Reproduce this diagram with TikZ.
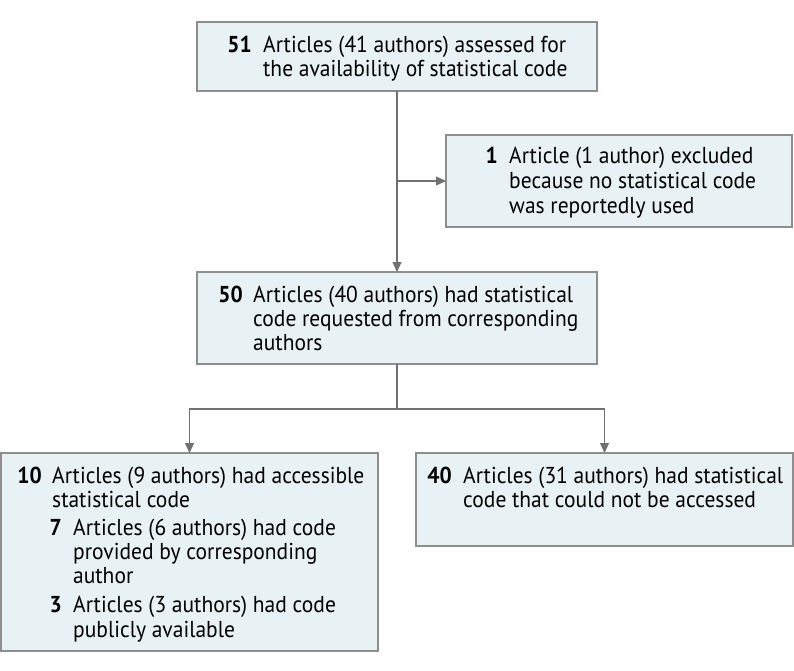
\documentclass[tikz,border=0pt]{standalone}
\usepackage{fontspec}
\setmainfont[FakeStretch=0.935]{PT Sans}
\usetikzlibrary{arrows.meta}
\definecolor{boxfill}{HTML}{E8F1F3}
\definecolor{boxline}{HTML}{8E8E8E}
\definecolor{arrline}{HTML}{707070}
\tikzset{
  box/.style={draw=boxline, fill=boxfill, line width=1.2pt, rectangle, inner sep=0pt, outer sep=0pt, anchor=north west},
  num/.style={anchor=base east, inner sep=0pt, font=\fontsize{23}{27}\selectfont\bfseries},
  txt/.style={anchor=base west, inner sep=0pt, font=\fontsize{23}{27}\selectfont},
  arr/.style={draw=arrline, line width=1.1pt, -{Triangle[width=9pt,length=10pt]}},
  ln/.style={draw=arrline, line width=1.1pt}
}
\begin{document}
\begin{tikzpicture}[x=1pt,y=-1pt]
\useasboundingbox (0,0) rectangle (794,671);
% boxes
\node[box, minimum width=400pt, minimum height=69pt] (b1) at (197,22) {};
\node[box, minimum width=346pt, minimum height=92pt] (b2) at (446,135) {};
\node[box, minimum width=400pt, minimum height=92pt] (b3) at (197,272) {};
\node[box, minimum width=377pt, minimum height=198pt] (b4) at (1,453) {};
\node[box, minimum width=377pt, minimum height=93pt] (b5) at (416,453) {};
% texts
\node[num] (n1) at (252,53) {51};
\node[txt] (t1a) at (263,53) {Articles (41 authors) assessed for};
\node[txt] (t1b) at (263,77) {the availability of statistical code};
\node[num] (n2) at (498,164) {1};
\node[txt] (t2a) at (509,164) {Article (1 author) excluded};
\node[txt] (t2b) at (509,189) {because no statistical code};
\node[txt] (t2c) at (509,213) {was reportedly used};
\node[num] (n3) at (243,302) {50};
\node[txt] (t3a) at (253,302) {Articles (40 authors) had statistical};
\node[txt] (t3b) at (253,326) {code requested from corresponding};
\node[txt] (t3c) at (253,350) {authors};
\node[num] (n4) at (42,483) {10};
\node[txt] (t4a) at (52,483) {Articles (9 authors) had accessible};
\node[txt] (t4b) at (52,507) {statistical code};
\node[num] (n4x) at (62,535) {7};
\node[txt] (t4c) at (73,535) {Articles (6 authors) had code};
\node[txt] (t4d) at (73,559) {provided by corresponding};
\node[txt] (t4e) at (73,583) {author};
\node[num] (n4y) at (62,612) {3};
\node[txt] (t4f) at (73,612) {Articles (3 authors) had code};
\node[txt] (t4g) at (73,637) {publicly available};
\node[num] (n5) at (452,483) {40};
\node[txt] (t5a) at (463,483) {Articles (31 authors) had statistical};
\node[txt] (t5b) at (463,507) {code that could not be accessed};
% connectors
\draw[arr] (b1.south) -- (b3.north);
\coordinate (j1) at (b1.south |- b2.west);
\draw[arr] (j1) -- (b2.west);
\coordinate (j2) at (397,409);
\draw[ln] (b3.south) -- (j2);
\draw[arr] (j2) -| (b4.north);
\draw[arr] (j2) -| (b5.north);
\end{tikzpicture}
\end{document}
